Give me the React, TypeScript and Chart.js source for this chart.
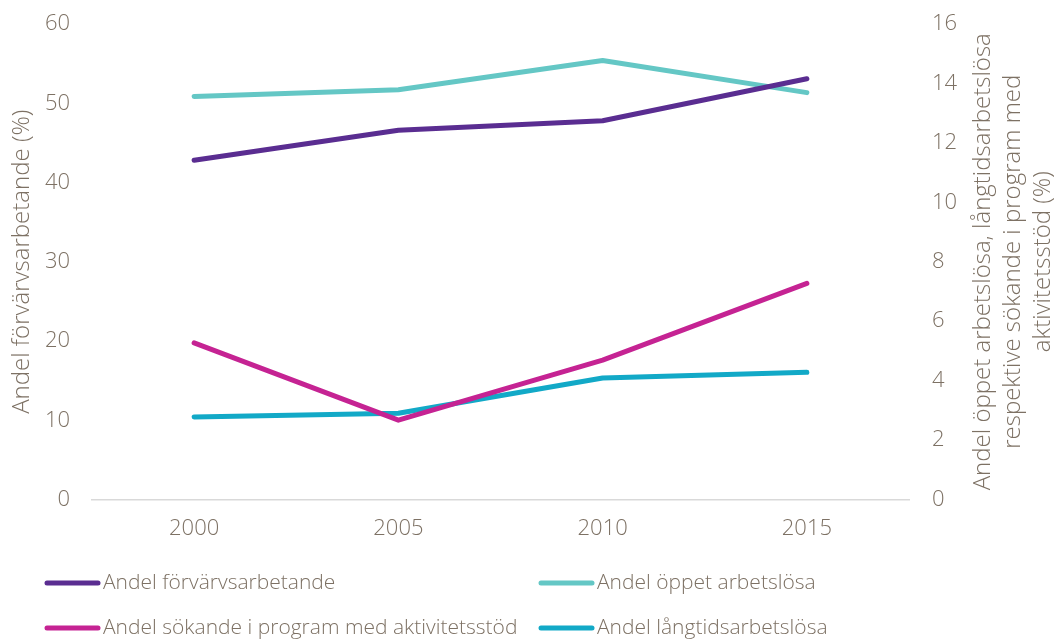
import React, { useEffect, useRef } from "react";
import { Chart, registerables } from "chart.js";

Chart.register(...registerables);

const years = ["2000", "2005", "2010", "2015"];
const forvarvsarbetande = [42.8, 46.6, 47.8, 53.1];
const oppetArbetslosa = [13.56, 13.79, 14.77, 13.69];
const sokandeProgram = [5.27, 2.67, 4.69, 7.27];
const langtidsarbetslosa = [2.78, 2.9, 4.09, 4.28];

const leftTitle = "Andel förvärvsarbetande (%)";
const rightTitle = [
  "Andel öppet arbetslösa, långtidsarbetslösa",
  "respektive sökande i program med",
  "aktivitetsstöd (%)",
];

const TEXT = "#7D7164";
const FONT_FAMILY = "'Open Sans', sans-serif";

const titlesPlugin = {
  id: "customTitles",
  afterDraw(chart: any) {
    const { ctx, chartArea } = chart;
    const cy = (chartArea.top + chartArea.bottom) / 2;
    ctx.save();
    ctx.fillStyle = TEXT;
    ctx.font = `300 24px ${FONT_FAMILY}`;
    ctx.textAlign = "center";
    ctx.textBaseline = "middle";
    ctx.save();
    ctx.translate(22, cy);
    ctx.rotate(-Math.PI / 2);
    ctx.fillText(leftTitle, 0, 0);
    ctx.restore();
    const xs = [983, 1013, 1043];
    rightTitle.forEach((line, i) => {
      ctx.save();
      ctx.translate(xs[i], cy);
      ctx.rotate(-Math.PI / 2);
      ctx.fillText(line, 0, 0);
      ctx.restore();
    });
    ctx.restore();
  },
};

const legendPlugin = {
  id: "customLegend",
  afterDraw(chart: any) {
    const { ctx } = chart;
    const colX = [45, 539];
    const rowY = [583, 628];
    ctx.save();
    ctx.font = `300 21px ${FONT_FAMILY}`;
    ctx.textBaseline = "middle";
    ctx.textAlign = "left";
    chart.data.datasets.forEach((ds: any, i: number) => {
      const x = colX[i % 2];
      const y = rowY[Math.floor(i / 2)];
      ctx.strokeStyle = ds.borderColor;
      ctx.lineWidth = 5;
      ctx.lineCap = "round";
      ctx.beginPath();
      ctx.moveTo(x + 2, y);
      ctx.lineTo(x + 53, y);
      ctx.stroke();
      ctx.fillStyle = TEXT;
      ctx.fillText(ds.label, x + 58, y);
    });
    ctx.restore();
  },
};

export default function App() {
  const ref = useRef<HTMLCanvasElement | null>(null);

  useEffect(() => {
    document.body.style.margin = "0";
    if (!ref.current) return;
    const tickFont = { family: FONT_FAMILY, size: 22, weight: 300 as any };
    const chart = new Chart(ref.current, {
      type: "line",
      data: {
        labels: years,
        datasets: [
          {
            label: "Andel förvärvsarbetande",
            data: forvarvsarbetande,
            borderColor: "#5A2D91",
            yAxisID: "y",
          },
          {
            label: "Andel öppet arbetslösa",
            data: oppetArbetslosa,
            borderColor: "#64C7C5",
            yAxisID: "y1",
          },
          {
            label: "Andel sökande i program med aktivitetsstöd",
            data: sokandeProgram,
            borderColor: "#C52393",
            yAxisID: "y1",
          },
          {
            label: "Andel långtidsarbetslösa",
            data: langtidsarbetslosa,
            borderColor: "#12A9C7",
            yAxisID: "y1",
          },
        ].map((d) => ({
          ...d,
          borderWidth: 5,
          borderCapStyle: "round" as const,
          borderJoinStyle: "round" as const,
          pointRadius: 0,
          fill: false,
          tension: 0,
        })),
      },
      options: {
        responsive: false,
        animation: false,
        devicePixelRatio: 1,
        layout: { padding: { top: 24, left: 0, right: 0, bottom: 0 } },
        plugins: {
          legend: { display: false },
          tooltip: { enabled: false },
        },
        scales: {
          x: {
            type: "category",
            offset: true,
            grid: { display: false, drawTicks: false },
            border: { display: true, color: "#D9D9D9", width: 1.5 },
            ticks: { color: TEXT, font: tickFont, padding: 16, maxRotation: 0 },
            afterFit(scale: any) {
              scale.height = 139.5;
              scale.paddingLeft = 0;
              scale.paddingRight = 0;
            },
          },
          y: {
            position: "left",
            min: 0,
            max: 60,
            grid: { display: false, drawTicks: false },
            border: { display: false },
            ticks: { stepSize: 10, color: TEXT, font: tickFont, padding: 22 },
            afterFit(scale: any) {
              scale.width = 92;
              scale.paddingTop = 0;
              scale.paddingBottom = 0;
            },
          },
          y1: {
            position: "right",
            min: 0,
            max: 16,
            grid: { display: false, drawTicks: false },
            border: { display: false },
            ticks: { stepSize: 2, color: TEXT, font: tickFont, padding: 23 },
            afterFit(scale: any) {
              scale.width = 151;
              scale.paddingTop = 0;
              scale.paddingBottom = 0;
            },
          },
        },
      },
      plugins: [titlesPlugin, legendPlugin],
    });
    return () => chart.destroy();
  }, []);

  return (
    <div style={{ position: "absolute", left: 0, top: 0, width: 1060, height: 639, background: "#fff" }}>
      <canvas ref={ref} width={1060} height={639} />
    </div>
  );
}
